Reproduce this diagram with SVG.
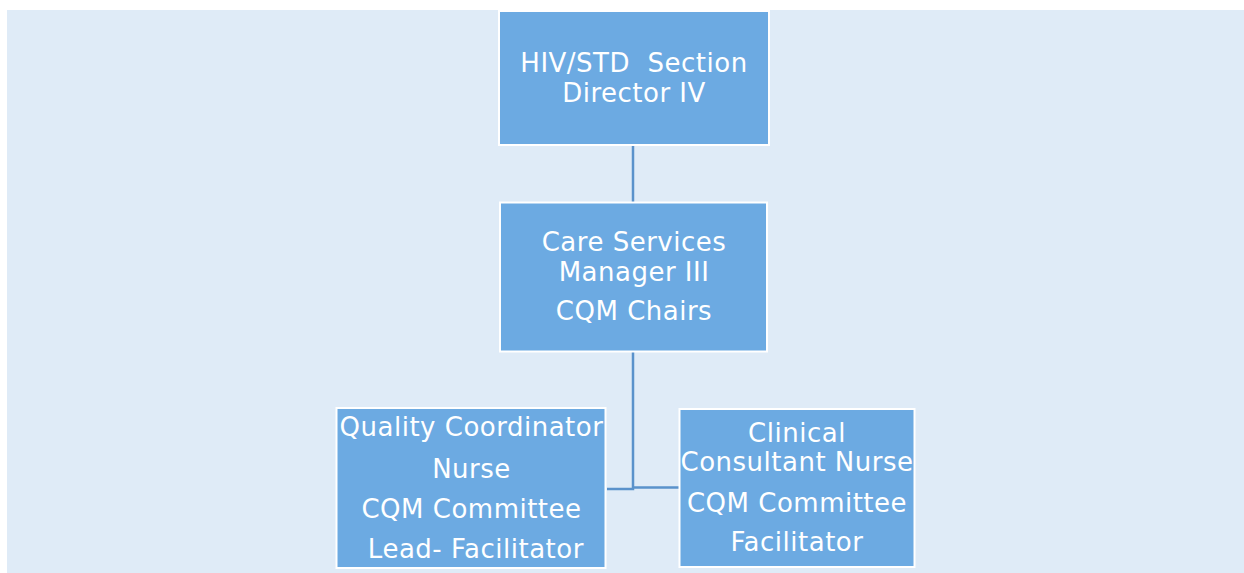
<svg xmlns="http://www.w3.org/2000/svg" width="1244" height="573" viewBox="0 0 1244 573">
<style>
.box{fill:#6caae2;stroke:#ffffff;stroke-width:2}
.t{font-family:"DejaVu Sans","Verdana",sans-serif;font-size:26px;letter-spacing:0.5px;fill:#ffffff;text-anchor:middle;white-space:pre}
.c{fill:none;stroke:#5a92cb;stroke-width:2.5}
</style>
<rect x="0" y="0" width="1244" height="573" fill="#ffffff"/>
<rect x="7" y="10" width="1237" height="563" fill="#dfebf7"/>
<g id="connectors">
<line class="c" x1="633" y1="146" x2="633" y2="202"/>
<polyline class="c" points="633,352 633,489 607,489"/>
<line class="c" x1="633" y1="487.5" x2="679" y2="487.5"/>
</g>
<g id="director">
<rect class="box" x="499" y="11" width="270" height="134"/>
<text class="t" x="634" y="72" xml:space="preserve">HIV/STD  Section</text>
<text class="t" x="634" y="102">Director IV</text>
</g>
<g id="manager">
<rect class="box" x="500" y="202.5" width="267" height="149"/>
<text class="t" x="634" y="251">Care Services</text>
<text class="t" x="634" y="281">Manager III</text>
<text class="t" x="634" y="320">CQM Chairs</text>
</g>
<g id="quality">
<rect class="box" x="336.5" y="408" width="269" height="160"/>
<text class="t" x="471.5" y="436">Quality Coordinator</text>
<text class="t" x="471.5" y="477.5">Nurse</text>
<text class="t" x="471.5" y="517.5">CQM Committee</text>
<text class="t" x="471.5" y="558" xml:space="preserve"> Lead- Facilitator</text>
</g>
<g id="clinical">
<rect class="box" x="679.5" y="409" width="235" height="158"/>
<text class="t" x="797" y="441.5">Clinical</text>
<text class="t" x="797" y="470.5">Consultant Nurse</text>
<text class="t" x="797" y="511.5">CQM Committee</text>
<text class="t" x="797" y="551">Facilitator</text>
</g>
</svg>
